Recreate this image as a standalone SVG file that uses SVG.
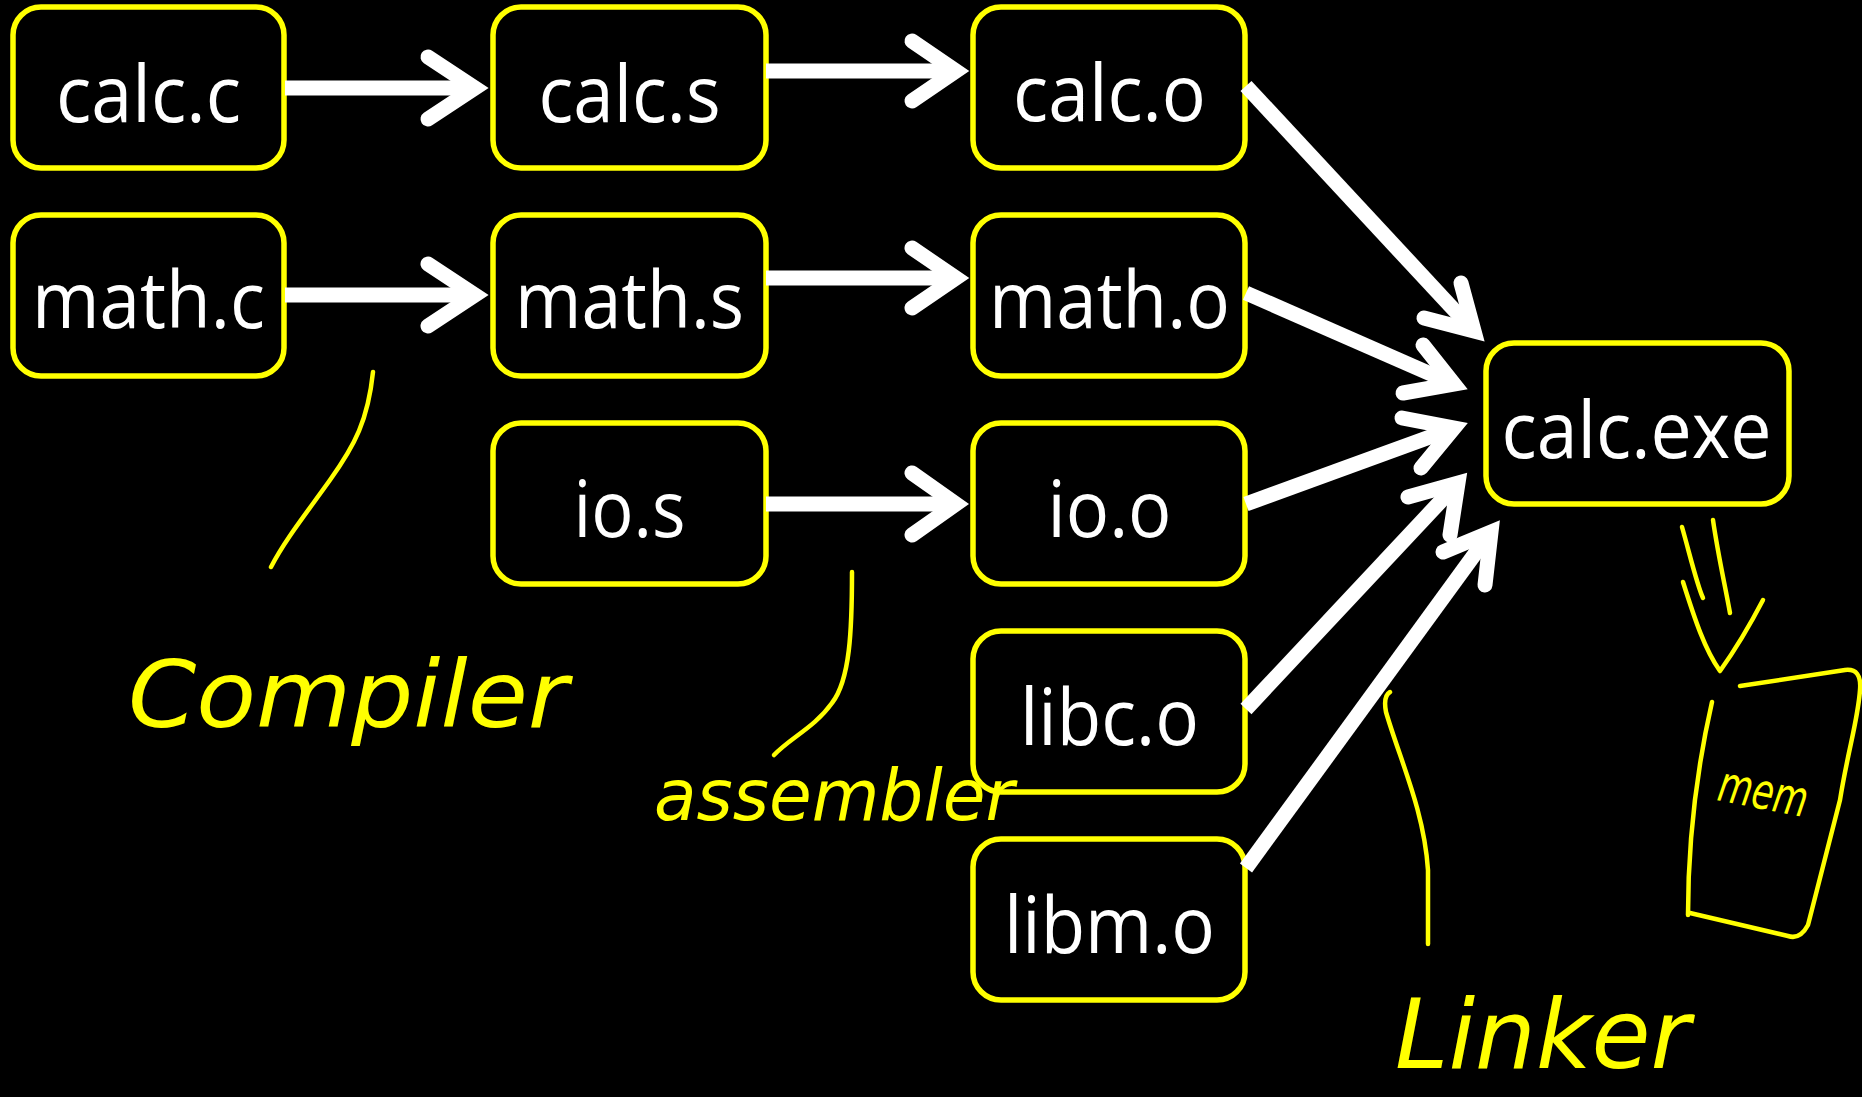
<svg xmlns="http://www.w3.org/2000/svg" width="1862" height="1097" viewBox="0 0 1862 1097">
<style>
.box{fill:#000;stroke:#FFFF00;stroke-width:5.5}
.lbl{font-family:"Open Sans","Noto Sans",sans-serif;font-size:78px;fill:#fff;text-anchor:middle}
.ln{stroke:#fff;stroke-width:15;fill:none;stroke-linecap:butt}
.hd{stroke:#fff;stroke-width:15;fill:none;stroke-linecap:round;stroke-linejoin:miter;stroke-miterlimit:6}
.ink{stroke:#FFFF00;stroke-width:4.5;fill:none;stroke-linecap:round;stroke-linejoin:round}
.hw{font-family:"DejaVu Sans","Noto Sans",sans-serif;font-style:italic;fill:#FFFF00}
</style>
<rect width="1862" height="1097" fill="#000"/>
<g id="calc_c"><rect class="box" x="13" y="7" width="271" height="161" rx="28"/><text class="lbl" x="148.5" y="122" textLength="185" lengthAdjust="spacingAndGlyphs">calc.c</text></g>
<g id="math_c"><rect class="box" x="13" y="215" width="271" height="161" rx="28"/><text class="lbl" x="148.5" y="328" textLength="233" lengthAdjust="spacingAndGlyphs">math.c</text></g>
<g id="calc_s"><rect class="box" x="493" y="7" width="273" height="161" rx="28"/><text class="lbl" x="629.5" y="122" textLength="182" lengthAdjust="spacingAndGlyphs">calc.s</text></g>
<g id="math_s"><rect class="box" x="493" y="215" width="273" height="161" rx="28"/><text class="lbl" x="629.5" y="328" textLength="229" lengthAdjust="spacingAndGlyphs">math.s</text></g>
<g id="io_s"><rect class="box" x="493" y="423" width="273" height="161" rx="28"/><text class="lbl" x="629.5" y="537" textLength="112" lengthAdjust="spacingAndGlyphs">io.s</text></g>
<g id="calc_o"><rect class="box" x="973" y="7" width="272" height="161" rx="28"/><text class="lbl" x="1109.5" y="121" textLength="193" lengthAdjust="spacingAndGlyphs">calc.o</text></g>
<g id="math_o"><rect class="box" x="973" y="215" width="272" height="161" rx="28"/><text class="lbl" x="1109.5" y="328" textLength="241" lengthAdjust="spacingAndGlyphs">math.o</text></g>
<g id="io_o"><rect class="box" x="973" y="423" width="272" height="161" rx="28"/><text class="lbl" x="1109.5" y="537" textLength="124" lengthAdjust="spacingAndGlyphs">io.o</text></g>
<g id="libc_o"><rect class="box" x="973" y="631" width="272" height="161" rx="28"/><text class="lbl" x="1109.5" y="745" textLength="179" lengthAdjust="spacingAndGlyphs">libc.o</text></g>
<g id="libm_o"><rect class="box" x="973" y="839" width="272" height="161" rx="28"/><text class="lbl" x="1109.5" y="953" textLength="211" lengthAdjust="spacingAndGlyphs">libm.o</text></g>
<g id="calc_exe"><rect class="box" x="1486" y="343" width="303" height="161" rx="28"/><text class="lbl" x="1636.5" y="458" textLength="270" lengthAdjust="spacingAndGlyphs">calc.exe</text></g>
<g id="connectors">
<line class="ln" x1="285" y1="88" x2="470" y2="88"/><polyline class="hd" points="428,57 475,88 428,119"/>
<line class="ln" x1="285" y1="295" x2="470" y2="295"/><polyline class="hd" points="428,264 475,295 428,326"/>
<line class="ln" x1="766" y1="71" x2="951" y2="71"/><polyline class="hd" points="912,41 956,71 912,101"/>
<line class="ln" x1="766" y1="278" x2="951" y2="278"/><polyline class="hd" points="912,248 956,278 912,308"/>
<line class="ln" x1="766" y1="504" x2="951" y2="504"/><polyline class="hd" points="912,473 956,504 912,535"/>
<line class="ln" x1="1246" y1="86" x2="1470" y2="327"/><polyline class="hd" points="1461,283 1474,331 1424,318"/>
<line class="ln" x1="1246" y1="293" x2="1449" y2="382"/><polyline class="hd" points="1423,345 1454,384 1403,393"/>
<line class="ln" x1="1246" y1="504" x2="1449" y2="430"/><polyline class="hd" points="1402,418 1454,428 1421,468"/>
<line class="ln" x1="1246" y1="709" x2="1454" y2="487"/><polyline class="hd" points="1408,497 1458,483 1450,535"/>
<line class="ln" x1="1246" y1="868" x2="1488" y2="536"/><polyline class="hd" points="1443,552 1491,532 1485,585"/>
</g>
<g id="annotations">
<path class="ink" d="M373,372 C368,420 355,445 330,480 C305,515 285,540 271,567"/>
<path class="ink" d="M852,572 C852,630 850,680 832,703 C815,727 790,738 774,755"/>
<path class="ink" d="M1390,692 Q1383,696 1386,712 C1400,760 1424,810 1428,870 L1428,944"/>
<path class="ink" d="M1682,527 C1690,555 1697,585 1703,598"/>
<path class="ink" d="M1713,520 C1718,555 1725,585 1730,613"/>
<path class="ink" d="M1683,582 C1695,620 1705,650 1720,671 C1735,650 1750,625 1763,600"/>
<path class="ink" stroke-width="5.5" d="M1740,686 L1845,670 Q1862,668 1860,690 C1858,720 1848,750 1840,800 L1808,925 Q1800,940 1788,936 L1690,913 M1688,915 C1688,860 1692,790 1712,702"/>
<text class="hw" x="128" y="727" font-size="92" textLength="440" lengthAdjust="spacingAndGlyphs">Compiler</text>
<text class="hw" x="654" y="820" font-size="72" textLength="360" lengthAdjust="spacingAndGlyphs">assembler</text>
<text class="hw" x="1395" y="1068" font-size="96" textLength="295" lengthAdjust="spacingAndGlyphs">Linker</text>
<text class="hw" x="1716" y="800" font-size="50" textLength="90" lengthAdjust="spacingAndGlyphs" transform="rotate(11 1716 800)">mem</text>
</g>
</svg>
